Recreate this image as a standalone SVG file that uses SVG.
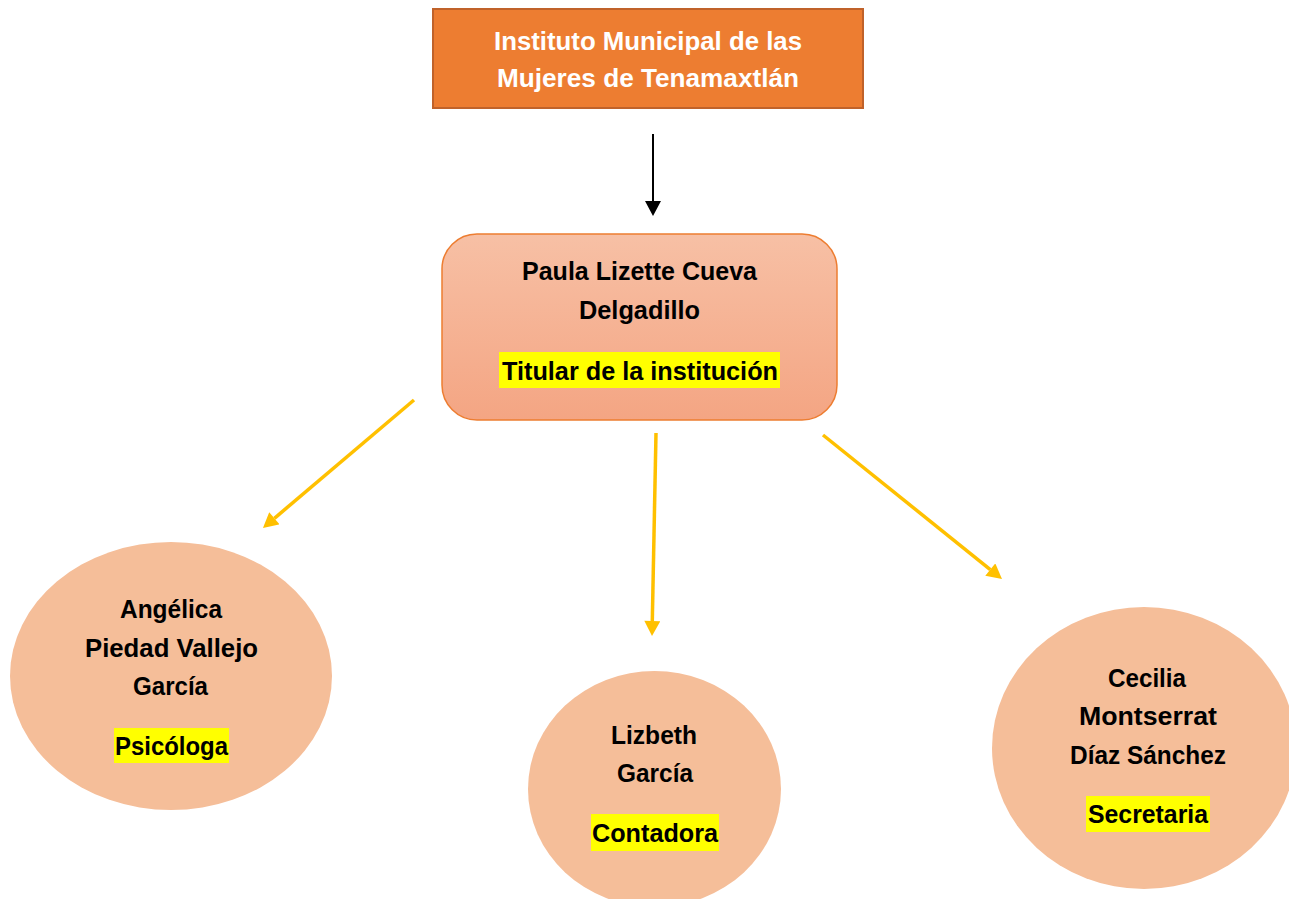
<svg xmlns="http://www.w3.org/2000/svg" width="1289" height="899" viewBox="0 0 1289 899">
  <defs>
    <linearGradient id="gTitular" x1="0" y1="0" x2="0" y2="1">
      <stop offset="0" stop-color="#F7C0A5"/>
      <stop offset="1" stop-color="#F4A583"/>
    </linearGradient>
    <marker id="arrBlack" markerUnits="userSpaceOnUse" markerWidth="16" markerHeight="16" refX="0" refY="8" orient="auto" viewBox="0 0 15 16">
      <path d="M0,0 L15,8 L0,16 z" fill="#000"/>
    </marker>
    <marker id="arrGold" markerUnits="userSpaceOnUse" markerWidth="16" markerHeight="16" refX="0" refY="8" orient="auto" viewBox="0 0 15 16">
      <path d="M0,0 L15,8 L0,16 z" fill="#FFC000"/>
    </marker>
  </defs>
  <style>
    .t { font-family: "Liberation Sans", Arial, sans-serif; font-weight: bold; font-size: 25px; text-anchor: middle; fill: #000; }
    .w { fill: #fff; }
    .hl { fill: #FFFF00; }
    .oval { fill: #F5BE99; }
    .gold { stroke: #FFC000; stroke-width: 3.5; fill: none; marker-end: url(#arrGold); }
  </style>
  <rect width="1289" height="899" fill="#fff"/>

  <g id="connectors">
    <line x1="653" y1="134" x2="653" y2="201" stroke="#000" stroke-width="2" marker-end="url(#arrBlack)"/>
    <line class="gold" x1="414" y1="400" x2="274.4" y2="518.3"/>
    <line class="gold" x1="656" y1="433" x2="652.3" y2="621"/>
    <line class="gold" x1="823" y1="435" x2="990.3" y2="569.6"/>
  </g>

  <g id="instituto">
    <rect x="433" y="9" width="430" height="99" fill="#ED7D31" stroke="#C0622A" stroke-width="2"/>
    <text class="t w" x="648" y="50" textLength="308" lengthAdjust="spacingAndGlyphs">Instituto Municipal de las</text>
    <text class="t w" x="648" y="87" textLength="302" lengthAdjust="spacingAndGlyphs">Mujeres de Tenamaxtlán</text>
  </g>

  <g id="titular">
    <rect x="442" y="234" width="395" height="186" rx="35" ry="35" fill="url(#gTitular)" stroke="#ED7D31" stroke-width="1.5"/>
    <text class="t" x="639.5" y="280" textLength="235" lengthAdjust="spacingAndGlyphs">Paula Lizette Cueva</text>
    <text class="t" x="639.5" y="319" textLength="121" lengthAdjust="spacingAndGlyphs">Delgadillo</text>
    <rect class="hl" x="499" y="352" width="281" height="36"/>
    <text class="t" x="640" y="380" textLength="276" lengthAdjust="spacingAndGlyphs">Titular de la institución</text>
  </g>

  <g id="psicologa">
    <ellipse class="oval" cx="171" cy="676" rx="161" ry="134"/>
    <text class="t" x="171" y="618" textLength="102" lengthAdjust="spacingAndGlyphs">Angélica</text>
    <text class="t" x="171.5" y="657" textLength="173" lengthAdjust="spacingAndGlyphs">Piedad Vallejo</text>
    <text class="t" x="170.5" y="695" textLength="75" lengthAdjust="spacingAndGlyphs">García</text>
    <rect class="hl" x="114" y="728" width="115" height="35"/>
    <text class="t" x="171.5" y="755" textLength="113" lengthAdjust="spacingAndGlyphs">Psicóloga</text>
  </g>

  <g id="contadora">
    <ellipse class="oval" cx="654.5" cy="789" rx="126.5" ry="118"/>
    <text class="t" x="654" y="744" textLength="86" lengthAdjust="spacingAndGlyphs">Lizbeth</text>
    <text class="t" x="655" y="782" textLength="76" lengthAdjust="spacingAndGlyphs">García</text>
    <rect class="hl" x="591" y="814" width="128" height="37"/>
    <text class="t" x="655" y="842" textLength="126" lengthAdjust="spacingAndGlyphs">Contadora</text>
  </g>

  <g id="secretaria">
    <ellipse class="oval" cx="1144" cy="748" rx="152" ry="141"/>
    <text class="t" x="1147" y="687" textLength="78" lengthAdjust="spacingAndGlyphs">Cecilia</text>
    <text class="t" x="1148" y="725" textLength="138" lengthAdjust="spacingAndGlyphs">Montserrat</text>
    <text class="t" x="1148" y="764" textLength="156" lengthAdjust="spacingAndGlyphs">Díaz Sánchez</text>
    <rect class="hl" x="1086" y="796" width="124" height="36"/>
    <text class="t" x="1148" y="823" textLength="120" lengthAdjust="spacingAndGlyphs">Secretaria</text>
  </g>
</svg>
